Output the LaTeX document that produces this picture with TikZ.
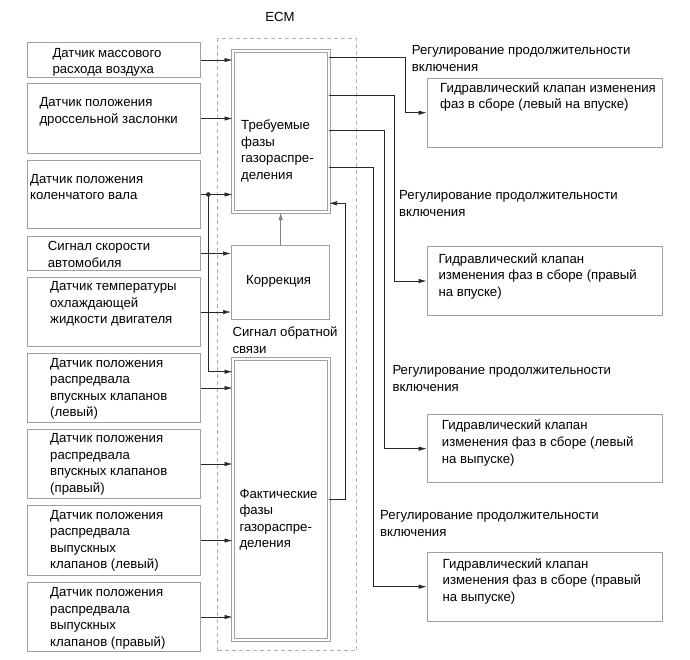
\documentclass[tikz,border=0pt]{standalone}
\usepackage{fontspec}
\setmainfont{Liberation Sans}
\usetikzlibrary{arrows.meta}
\definecolor{boxgray}{RGB}{160,160,160}
\definecolor{linedark}{RGB}{40,40,40}
\definecolor{dashgray}{RGB}{175,175,175}
\tikzset{
  sbox/.style={draw=boxgray, line width=1pt, anchor=north west, inner sep=0pt},
  dbox/.style={draw=boxgray, line width=1pt, double=white, double distance=2pt, anchor=north west, inner sep=0pt},
  txt/.style={anchor=north west, inner sep=0pt, align=left, font=\fontsize{13.2}{16.6}\selectfont, text=black},
  arr/.style={draw=linedark, line width=0.7pt, -{Latex[length=8pt,width=4.4pt]}},
  arrg/.style={draw=gray, line width=0.9pt, -{Latex[length=8pt,width=4.4pt]}},
  ecm/.style={draw=dashgray, line width=1pt, dash pattern=on 4pt off 3pt}
}
\begin{document}
\begin{tikzpicture}[x=1pt,y=-1pt]
\useasboundingbox (0,0) rectangle (690,659);
% ECM
\node[ecm, anchor=north west, minimum width=139pt, minimum height=612pt, inner sep=0pt] (ecmbox) at (217,38) {};
\node[txt, anchor=north] (ecmlbl) at (280,11.7) {ECM};
% sensor boxes
\node[sbox, minimum width=173pt, minimum height=35pt] (s1) at (27,42) {};
\node[sbox, minimum width=173pt, minimum height=70pt] (s2) at (27,83) {};
\node[sbox, minimum width=173pt, minimum height=68pt] (s3) at (27,160) {};
\node[sbox, minimum width=173pt, minimum height=34pt] (s4) at (27,236) {};
\node[sbox, minimum width=173pt, minimum height=69pt] (s5) at (27,277) {};
\node[sbox, minimum width=173pt, minimum height=69pt] (s6) at (27,353) {};
\node[sbox, minimum width=173pt, minimum height=69pt] (s7) at (27,429) {};
\node[sbox, minimum width=173pt, minimum height=70pt] (s8) at (27,505) {};
\node[sbox, minimum width=173pt, minimum height=69pt] (s9) at (27,582) {};
\node[txt] (t1) at (52.3,47.8) {Датчик массового\\расхода воздуха};
\node[txt] (t2) at (39.3,97.2) {Датчик положения\\дроссельной заслонки};
\node[txt] (t3) at (30,173.8) {Датчик положения\\коленчатого вала};
\node[txt] (t4) at (47.7,241.2) {Сигнал скорости\\автомобиля};
\node[txt] (t5) at (50,281.5) {Датчик температуры\\охлаждающей\\жидкости двигателя};
\node[txt] (t6) at (50,357.8) {Датчик положения\\распредвала\\впускных клапанов\\(левый)};
\node[txt] (t7) at (50,433.2) {Датчик положения\\распредвала\\впускных клапанов\\(правый)};
\node[txt] (t8) at (50,509.8) {Датчик положения\\распредвала\\выпускных\\клапанов (левый)};
\node[txt] (t9) at (50,587.2) {Датчик положения\\распредвала\\выпускных\\клапанов (правый)};
% ECM blocks
\node[dbox, minimum width=95.5pt, minimum height=160.5pt] (treb) at (232.5,50.5) {};
\node[sbox, minimum width=98.3pt, minimum height=74.3pt] (korr) at (231,245) {};
\node[dbox, minimum width=95.5pt, minimum height=281pt] (fakt) at (232.5,358.2) {};
\node[txt] (ttreb) at (241,119.8) {Требуемые\\фазы\\газораспре-\\деления};
\node[txt] (tkorr) at (246,275.5) {Коррекция};
\node[txt] (tfb) at (232.3,326.5) {Сигнал обратной\\связи};
\node[txt] (tfakt) at (239.3,488.8) {Фактические\\фазы\\газораспре-\\деления};
% output boxes
\node[sbox, minimum width=235pt, minimum height=69pt] (oa) at (426.7,77.7) {};
\node[sbox, minimum width=235pt, minimum height=69pt] (ob) at (426.7,246) {};
\node[sbox, minimum width=235pt, minimum height=68.3pt] (oc) at (426.7,414) {};
\node[sbox, minimum width=235pt, minimum height=69pt] (od) at (426.7,551.7) {};
\node[txt] (toa) at (440,82.2) {Гидравлический клапан изменения\\фаз в сборе (левый на впуске)};
\node[txt] (tob) at (438.3,253.2) {Гидравлический клапан\\изменения фаз в сборе (правый\\на впуске)};
\node[txt] (toc) at (441.7,419.8) {Гидравлический клапан\\изменения фаз в сборе (левый\\на выпуске)};
\node[txt] (tod) at (442.5,558.2) {Гидравлический клапан\\изменения фаз в сборе (правый\\на выпуске)};
\node[txt] (l1) at (411.7,45.5) {Регулирование продолжительности\\включения};
\node[txt] (l2) at (399,190.5) {Регулирование продолжительности\\включения};
\node[txt] (l3) at (392.3,365.5) {Регулирование продолжительности\\включения};
\node[txt] (l4) at (380,510.5) {Регулирование продолжительности\\включения};
% sensor connectors
\draw[arr] (s1.east) -- (s1.east -| treb.west);
\draw[arr] (s2.east) -- (s2.east -| treb.west);
\draw[arr] (s3.east) -- (s3.east -| treb.west);
\coordinate (jn) at (208.3,0 |- s3.east);
\fill[linedark] (jn) circle (2.3pt);
\draw[arr] (jn) |- (fakt.west |- 0,371.7);
\draw[arr] (s4.east) -- (s4.east -| korr.west);
\draw[arr] (s5.east) -- (s5.east -| korr.west);
\draw[arr] (s6.east) -- (s6.east -| fakt.west);
\draw[arr] (s7.east) -- (s7.east -| fakt.west);
\draw[arr] (s8.east) -- (s8.east -| fakt.west);
\draw[arr] (s9.east) -- (s9.east -| fakt.west);
% internal
\draw[arrg] (korr.north) -- (korr.north |- treb.south);
\draw[arr] (fakt.east |- 0,499) -- (345.5,499) |- (treb.east |- 0,203.3);
% outputs
\draw[arr] (treb.east |- 0,57.5) -- (405,57.5) |- (oa.west);
\draw[arr] (treb.east |- 0,95) -- (394.3,95) |- (ob.west);
\draw[arr] (treb.east |- 0,130.7) -- (384,130.7) |- (oc.west);
\draw[arr] (treb.east |- 0,167.3) -- (373.3,167.3) |- (od.west);
\end{tikzpicture}
\end{document}
